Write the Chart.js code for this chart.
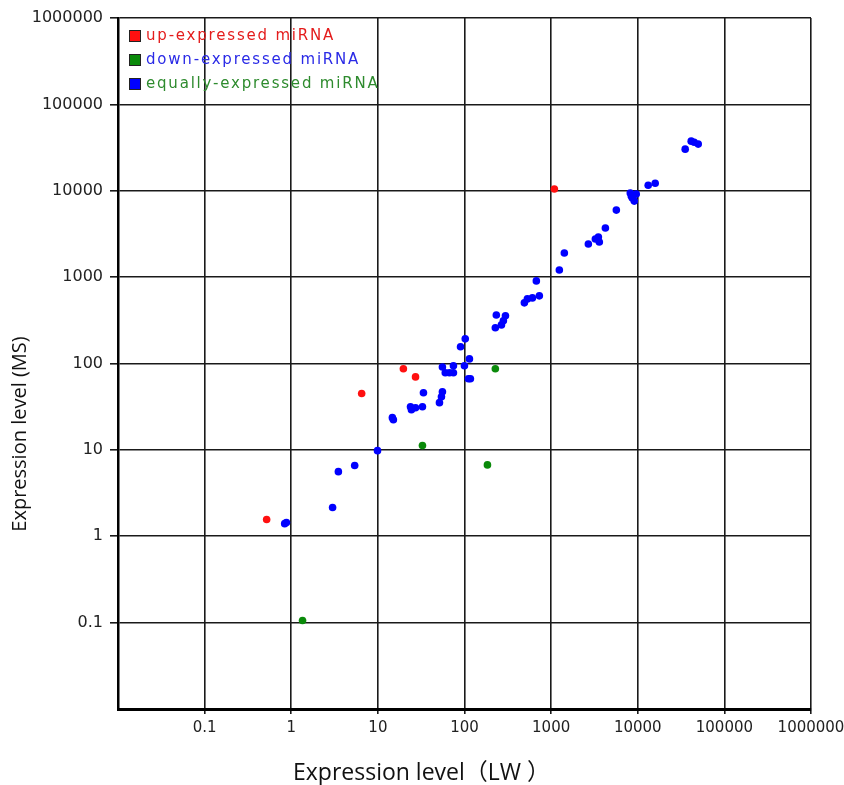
<!DOCTYPE html>
<html><head><meta charset="utf-8">
<script src="https://cdn.jsdelivr.net/npm/chart.js@4/dist/chart.umd.min.js"></script>
<style>html,body{margin:0;padding:0;background:#fff}canvas{display:block}</style>
</head><body>
<canvas id="c" width="844" height="785"></canvas>
<script>
// ---- data ----
const seriesNames = ['up-expressed miRNA', 'down-expressed miRNA', 'equally-expressed miRNA'];
const upLW = [0.52, 6.5, 19.7, 27.2, 1090];
const upMS = [1.56, 45, 87, 70, 10470];
const downLW = [1.35, 32.7, 184, 227];
const downMS = [0.106, 11.2, 6.7, 87];
const equalLW = [0.84, 0.88, 3.0, 3.5, 5.4, 9.9, 14.7, 15.1, 23.8, 24.4, 27.2, 32.7, 33.6, 55.6, 54.2, 51.4,
  55.6, 74.5, 99.8, 60, 67, 74.5, 111, 117, 114, 90, 102, 227, 267, 281, 297, 233, 491, 532, 608, 731, 675,
  1244, 1421, 2690, 3240, 3510, 3600, 4230, 5660, 8200, 8420, 9610, 8650, 9120, 13200, 15900,
  35300, 41400, 44800, 49900];
const equalMS = [1.40, 1.44, 2.15, 5.6, 6.6, 9.8, 23.6, 22.3, 31.6, 29.2, 30.8, 31.6, 45.9, 47.1, 41.2, 35.2,
  91, 94, 94, 78, 78, 78, 66.5, 66.5, 113, 156, 193, 259, 280, 312, 356, 365, 504, 560, 575, 607, 904,
  1211, 1905, 2420, 2760, 2910, 2550, 3700, 5970, 9400, 8670, 9140, 8220, 7590, 11600, 12200,
  30300, 37500, 36500, 34700];
const tickValues = [0.01, 0.1, 1, 10, 100, 1000, 10000, 100000, 1000000];
const tickLabels = ['', '0.1', '1', '10', '100', '1000', '10000', '100000', '1000000'];
const xTitle = 'Expression level（LW ）';
const yTitle = 'Expression level (MS)';

// ---- styles ----
const markerColors = ['#ff1010', '#0a8a0a', '#0000ff'];
const legendTextColors = ['#e41c1c', '#2a2ae6', '#2e8b2e'];

const pts = (xs, ys) => xs.map((x, i) => ({ x: x, y: ys[i] }));

const overlay = {
  id: 'overlay',
  afterDraw(chart) {
    const ctx = chart.ctx;
    ctx.save();
    // legend
    ctx.font = '15px "DejaVu Sans"';
    if ('letterSpacing' in ctx) ctx.letterSpacing = '1.8px';
    ctx.textBaseline = 'middle';
    ctx.textAlign = 'left';
    const rows = [36, 60, 84];
    seriesNames.forEach((name, i) => {
      ctx.fillStyle = markerColors[i];
      ctx.fillRect(129, rows[i] - 6, 12, 12);
      ctx.strokeStyle = '#222';
      ctx.lineWidth = 1;
      ctx.strokeRect(129.5, rows[i] - 5.5, 11, 11);
      ctx.fillStyle = legendTextColors[i];
      ctx.fillText(name, 146, rows[i]);
    });
    if ('letterSpacing' in ctx) ctx.letterSpacing = '0px';
    // axis titles
    ctx.fillStyle = '#111';
    ctx.textBaseline = 'alphabetic';
    ctx.textAlign = 'left';
    ctx.font = '23px "Open Sans", "Noto Sans CJK JP"';
    ctx.fillText(xTitle, 293, 780);
    ctx.textAlign = 'center';
    ctx.textBaseline = 'middle';
    ctx.translate(20, 434);
    ctx.rotate(-Math.PI / 2);
    ctx.font = '20px "Open Sans"';
    ctx.fillText(yTitle, 0, 0);
    ctx.restore();
  }
};

const logAxis = (pos, fit, font, tickLen, pad) => ({
  type: 'logarithmic',
  position: pos,
  min: 0.01,
  max: 1000000,
  afterBuildTicks: s => { s.ticks = tickValues.map(v => ({ value: v })); },
  afterFit: fit,
  ticks: {
    autoSkip: false, maxRotation: 0, minRotation: 0, padding: pad,
    color: '#222', font: font,
    callback: (v, i) => tickLabels[i]
  },
  grid: {
    color: '#1a1a1a', lineWidth: 1.6, tickLength: tickLen, drawTicks: true,
    tickColor: c => (c.index === 0 ? 'rgba(0,0,0,0)' : '#1a1a1a')
  },
  border: { display: true, color: '#000', width: pos === 'bottom' ? 3 : 2.5 },
  title: { display: false }
});

new Chart(document.getElementById('c'), {
  type: 'scatter',
  data: {
    datasets: [
      { label: seriesNames[0], data: pts(upLW, upMS), backgroundColor: markerColors[0] },
      { label: seriesNames[1], data: pts(downLW, downMS), backgroundColor: markerColors[1] },
      { label: seriesNames[2], data: pts(equalLW, equalMS), backgroundColor: markerColors[2] }
    ]
  },
  options: {
    responsive: false,
    animation: false,
    devicePixelRatio: 1,
    layout: { padding: { top: 18, right: 33, left: 0, bottom: 0 } },
    elements: { point: { radius: 3.8, borderWidth: 0, hoverRadius: 3.8 } },
    plugins: { legend: { display: false }, tooltip: { enabled: false } },
    scales: {
      x: logAxis('bottom', s => { s.height = 76; s.paddingLeft = 0; s.paddingRight = 0; }, { family: 'DejaVu Sans', size: 15 }, 5, 5),
      y: logAxis('left', s => { s.width = 118; s.paddingTop = 0; s.paddingBottom = 0; }, { family: 'DejaVu Sans', size: 16 }, 8, 7)
    }
  },
  plugins: [overlay]
});
</script>
</body></html>
